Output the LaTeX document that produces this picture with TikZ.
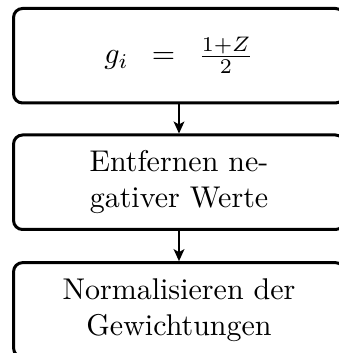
\documentclass[tikz,border=0pt]{standalone}
\usetikzlibrary{arrows.meta}
\tikzset{
  stepbox/.style={draw, line width=1pt, rounded corners=3pt, minimum width=110.3pt,
    minimum height=31.5pt, align=center, inner sep=0pt},
  flowarrow/.style={line width=0.6pt, -{Stealth[length=4pt,width=3.6pt,inset=1pt]}}
}
\begin{document}
\begin{tikzpicture}
\useasboundingbox (0,0) rectangle (112.67pt,-117.67pt);
\node[stepbox] (b1) at (59.67pt,-18.58pt) {$g_i$\hspace{7.7pt}$=$\hspace{7.7pt}$\frac{1+Z}{2}$};
\node[stepbox] (b2) at (59.67pt,-60.75pt) {Entfernen ne-\\gativer Werte};
\node[stepbox] (b3) at (59.67pt,-103.3pt) {Normalisieren der\\Gewichtungen};
\draw[flowarrow] (b1.south) -- (b2.north);
\draw[flowarrow] (b2.south) -- (b3.north);
\end{tikzpicture}
\end{document}
